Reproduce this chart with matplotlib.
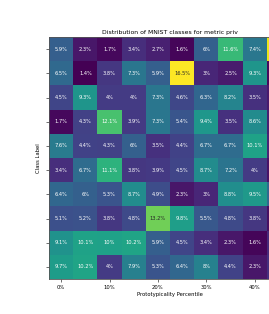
import matplotlib
matplotlib.use('Agg')
import matplotlib.pyplot as plt
import seaborn as sns
import numpy as np

# percentage of each class per prototypicality percentile bin (visible part)
percentiles = [0, 5, 10, 15, 20, 25, 30, 35, 40, 45]
xtick_labels = ['0%', '10%', '20%', '30%', '40%']
classes = list(range(10))

row0 = [5.9, 2.3, 1.7, 3.4, 2.7, 1.6, 6.0, 11.6, 7.4, 16.0]
row1 = [6.5, 1.4, 3.8, 7.3, 5.9, 16.5, 3.0, 2.5, 9.3, 1.8]
row2 = [4.5, 9.3, 4.0, 4.0, 7.3, 4.6, 6.3, 8.2, 3.5, 2.5]
row3 = [1.7, 4.3, 12.1, 3.9, 7.3, 5.4, 9.4, 3.5, 8.6, 2.8]
row4 = [7.6, 4.4, 4.3, 6.0, 3.5, 4.4, 6.7, 6.7, 10.1, 3.0]
row5 = [3.4, 6.7, 11.1, 3.8, 3.9, 4.5, 8.7, 7.2, 4.0, 2.2]
row6 = [6.4, 6.0, 5.3, 8.7, 4.9, 2.3, 3.0, 8.8, 9.5, 6.5]
row7 = [5.1, 5.2, 3.8, 4.8, 13.2, 9.8, 5.5, 4.8, 3.8, 2.0]
row8 = [9.1, 10.1, 10.0, 10.2, 5.9, 4.5, 3.4, 2.3, 1.6, 3.2]
row9 = [9.7, 10.2, 4.0, 7.9, 5.3, 6.4, 8.0, 4.4, 2.3, 3.5]

data = np.array([row0, row1, row2, row3, row4, row5, row6, row7, row8, row9])
labels = np.array([[f"{v:g}%" for v in r] for r in data])
# last column is cut off by the figure edge, its labels fall outside
labels[:, -1] = ''

fig = plt.figure(figsize=(2.69, 3.14), dpi=100)
ax = fig.add_axes([49 / 269, 35 / 314, 242 / 269, 242 / 314])

sns.heatmap(data, ax=ax, cmap='viridis', annot=labels, fmt='', cbar=False,
            annot_kws={'fontsize': 3.7})

ax.set_xticks(np.arange(0, len(percentiles), 2) + 0.5)
ax.set_xticklabels(xtick_labels, rotation=0)
ax.set_yticks(np.arange(len(classes)) + 0.5)
ax.set_yticklabels([''] * len(classes))
ax.tick_params(labelsize=3.8, length=2, width=0.4, pad=2)
ax.set_xlabel('Prototypicality Percentile', fontsize=3.8, labelpad=2)
ax.set_ylabel('Class Label', fontsize=3.8, labelpad=2)
ax.set_title('Distribution of MNIST classes for metric priv', fontsize=4.4, pad=2)

for s in ax.spines.values():
    s.set_visible(True)
    s.set_color('#555555')
    s.set_linewidth(0.6)

plt.savefig('out.png', dpi=100)
